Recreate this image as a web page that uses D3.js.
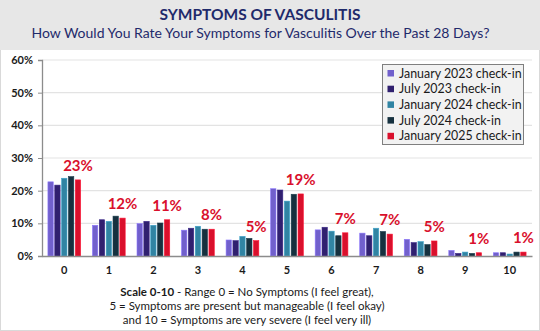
<!DOCTYPE html>
<html>
<head>
<meta charset="utf-8">
<script src="https://cdn.jsdelivr.net/npm/d3@7"></script>
<style>
  html, body { margin: 0; padding: 0; background: #fff; }
  svg { display: block; font-family: Lato, "Open Sans", sans-serif; }
</style>
</head>
<body>
<svg id="chart"></svg>
<script>
// Symptom ratings 0-10, share of respondents per check-in (percent).
var categories = ["0", "1", "2", "3", "4", "5", "6", "7", "8", "9", "10"];
var seriesNames = [
    "January 2023 check-in",
    "July 2023 check-in",
    "January 2024 check-in",
    "July 2024 check-in",
    "January 2025 check-in"
];
var jan2023 = [22.7, 9.4, 9.9, 7.9, 4.9, 20.6, 8.0, 7.0, 5.1, 1.7, 1.0];
var jul2023 = [21.7, 11.1, 10.6, 8.5, 4.7, 20.2, 8.8, 6.2, 4.1, 0.8, 1.0];
var jan2024 = [23.8, 10.6, 9.4, 9.1, 6.0, 16.8, 7.6, 8.5, 4.4, 1.2, 0.6];
var jul2024 = [24.3, 12.2, 10.1, 8.2, 5.4, 18.9, 6.2, 7.5, 3.5, 0.8, 1.2];
var jan2025 = [23.3, 11.6, 11.1, 8.2, 4.7, 19.0, 7.1, 6.7, 4.6, 1.0, 1.2];
var latestLabels = ["23%", "12%", "11%", "8%", "5%", "19%", "7%", "7%", "5%", "1%", "1%"];
var yTicks = [0, 10, 20, 30, 40, 50, 60];

var seriesValues = [jan2023, jul2023, jan2024, jul2024, jan2025];
var colours = ["#7160cc", "#30206f", "#3184a3", "#16313f", "#d9102c"];

var W = 540, H = 331;
var svg = d3.select("#chart").attr("width", W).attr("height", H);

// panel background: grey header band, white body with faint frame
svg.append("rect").attr("x", 0.5).attr("y", 0.5).attr("width", W - 1).attr("height", H - 1)
    .attr("fill", "#fff").attr("stroke", "#d9d9d9");
svg.append("rect").attr("x", 0).attr("y", 0).attr("width", W).attr("height", 50)
    .attr("fill", "#e7e7e7");

svg.append("text").attr("x", 260).attr("y", 20).attr("text-anchor", "middle")
    .attr("font-size", 15.5).attr("font-weight", "bold").attr("fill", "#1f2a6b")
    .text("SYMPTOMS OF VASCULITIS");
svg.append("text").attr("x", 260.5).attr("y", 37.5).attr("text-anchor", "middle")
    .attr("font-size", 14).attr("fill", "#1f2a6b")
    .text("How Would You Rate Your Symptoms for Vasculitis Over the Past 28 Days?");

var x = d3.scaleBand().domain(categories).range([42, 532]).paddingInner(0.265).paddingOuter(0.133);
var xs = d3.scaleBand().domain(d3.range(seriesNames.length)).range([0, x.bandwidth()]).paddingInner(0.22);
var y = d3.scaleLinear().domain([0, 60]).range([256, 60]);

// gridlines
svg.append("g").selectAll("line").data(yTicks.slice(1)).join("line")
    .attr("x1", 42).attr("x2", 532)
    .attr("y1", function (d) { return y(d); }).attr("y2", function (d) { return y(d); })
    .attr("stroke", "#e3e3e3").attr("stroke-width", 1.2);

// y axis
var yAxis = svg.append("g").attr("transform", "translate(42,0)")
    .call(d3.axisLeft(y).tickValues(yTicks).tickSize(4).tickPadding(5)
        .tickFormat(function (d) { return d + "%"; }));
yAxis.select(".domain").attr("stroke", "#8c8c8c").attr("stroke-width", 1.3);
yAxis.selectAll(".tick line").attr("stroke", "#8c8c8c");
yAxis.selectAll("text").attr("font-size", 11).attr("font-weight", "bold")
    .attr("fill", "#1a1a1a").attr("font-family", "Lato, sans-serif");

// bars
var groups = svg.append("g").selectAll("g").data(categories).join("g")
    .attr("transform", function (d) { return "translate(" + x(d) + ",0)"; });
groups.selectAll("rect")
    .data(function (d, i) {
        return seriesValues.map(function (vals, s) { return { s: s, v: vals[i] }; });
    })
    .join("rect")
    .attr("x", function (d) { return xs(d.s); })
    .attr("width", xs.bandwidth())
    .attr("y", function (d) { return y(d.v); })
    .attr("height", function (d) { return y(0) - y(d.v); })
    .attr("fill", function (d) { return colours[d.s]; })
    .attr("stroke", function (d) { return d3.color(colours[d.s]).brighter(0.6); })
    .attr("stroke-width", 0.6);

// x axis
var xAxis = svg.append("g").attr("transform", "translate(0,256)")
    .call(d3.axisBottom(x).tickSize(0).tickPadding(10));
xAxis.select(".domain").attr("stroke", "#8c8c8c").attr("stroke-width", 1.3);
xAxis.selectAll("text").attr("font-size", 11).attr("font-weight", "bold")
    .attr("fill", "#1a1a1a").attr("font-family", "Lato, sans-serif");

// labels over the latest check-in
svg.append("g").selectAll("text").data(categories).join("text")
    .attr("x", function (d) { return x(d) + xs(4) + xs.bandwidth() / 2; })
    .attr("y", function (d, i) { return y(jan2025[i]) - 9; })
    .attr("text-anchor", "middle")
    .attr("font-size", 15).attr("font-weight", "bold").attr("fill", "#d9102c")
    .text(function (d, i) { return latestLabels[i]; });

// legend
var legend = svg.append("g").attr("transform", "translate(382,64)");
legend.append("rect").attr("x", 0.5).attr("y", 0.5).attr("width", 141).attr("height", 80)
    .attr("fill", "#f2f2f2").attr("stroke", "#7f7f7f");
var rows = legend.selectAll("g.row").data(seriesNames).join("g").attr("class", "row")
    .attr("transform", function (d, i) { return "translate(0," + (9 + i * 15.7) + ")"; });
rows.append("rect").attr("x", 5.5).attr("y", -3).attr("width", 6.5).attr("height", 6.5)
    .attr("fill", function (d, i) { return colours[i]; });
rows.append("text").attr("x", 17).attr("y", 4.6).attr("font-size", 12.4).attr("fill", "#1a1a1a")
    .text(function (d) { return d; });

// scale note
var note = svg.append("text").attr("text-anchor", "middle").attr("font-size", 11.5).attr("fill", "#1a1a1a");
var l1 = note.append("tspan").attr("x", 247).attr("y", 296);
l1.append("tspan").attr("font-weight", "bold").text("Scale 0-10");
l1.append("tspan").text(" - Range 0 = No Symptoms (I feel great),");
note.append("tspan").attr("x", 247).attr("y", 310).text("5 = Symptoms are present but manageable (I feel okay)");
note.append("tspan").attr("x", 247).attr("y", 324).text("and 10 = Symptoms are very severe (I feel very ill)");
</script>
</body>
</html>
